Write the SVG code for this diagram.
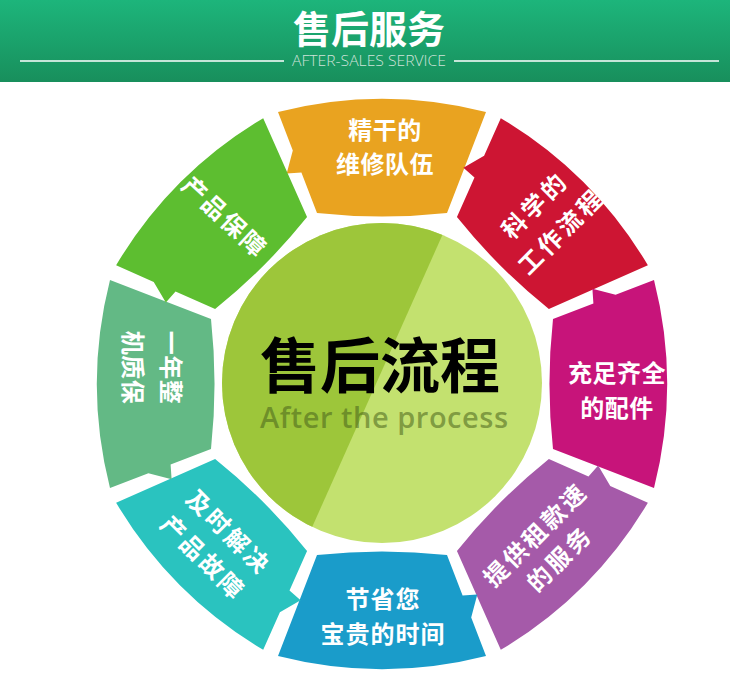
<svg xmlns="http://www.w3.org/2000/svg" xmlns:xlink="http://www.w3.org/1999/xlink" width="730" height="691" viewBox="0 0 730 691">
<defs>
<linearGradient id="hdr" x1="0" y1="0" x2="0" y2="1">
<stop offset="0" stop-color="#1db57b"/>
<stop offset="1" stop-color="#188f5c"/>
</linearGradient>
<clipPath id="cc"><circle cx="382" cy="383" r="160"/></clipPath>
<path id="seg" d="M-104,-272 A422,422 0 0 1 104,-272 L65,-171 A600,600 0 0 1 -65,-171 L-80.6,-211.4 L-95.3,-210.4 L-89.2,-233.6 Z"/>
</defs>
<style>
.lbl{font-family:"Noto Sans CJK SC","Noto Sans",sans-serif;font-weight:700;font-size:24px;fill:#fff;text-anchor:middle}
</style>
<rect width="730" height="691" fill="#fff"/>
<g id="header">
<rect x="0" y="0" width="730" height="82" fill="url(#hdr)"/>
<text x="369" y="43" font-family="'Noto Sans CJK SC','Noto Sans',sans-serif" font-weight="700" font-size="38" fill="#fff" text-anchor="middle">售后服务</text>
<line x1="20" y1="61" x2="284" y2="61" stroke="#fff" stroke-width="1.5"/>
<line x1="454" y1="61" x2="719" y2="61" stroke="#fff" stroke-width="1.5"/>
<text x="369" y="66" font-family="'Open Sans','Liberation Sans',sans-serif" font-weight="300" font-size="15" fill="#cfe3da" text-anchor="middle" textLength="154" lengthAdjust="spacingAndGlyphs">AFTER-SALES SERVICE</text>
</g>
<g id="connectors"/>
<g id="ring" transform="translate(382,384)">
<use id="seg-orange" xlink:href="#seg" href="#seg" fill="#e9a320"/>
<use id="seg-red" xlink:href="#seg" href="#seg" fill="#cd1533" transform="rotate(45)"/>
<use id="seg-magenta" xlink:href="#seg" href="#seg" fill="#c7147a" transform="rotate(90)"/>
<use id="seg-purple" xlink:href="#seg" href="#seg" fill="#a55aa9" transform="rotate(135)"/>
<use id="seg-blue" xlink:href="#seg" href="#seg" fill="#1a9cca" transform="rotate(180)"/>
<use id="seg-teal" xlink:href="#seg" href="#seg" fill="#2ac3bf" transform="rotate(225)"/>
<use id="seg-graygreen" xlink:href="#seg" href="#seg" fill="#63b985" transform="rotate(270)"/>
<use id="seg-green" xlink:href="#seg" href="#seg" fill="#5dbe30" transform="rotate(315)"/>
</g>
<g id="node-orange" transform="translate(385,147)">
<text class="lbl" y="-8.2" letter-spacing="0.5">精干的</text>
<text class="lbl" y="26.3" letter-spacing="0.5">维修队伍</text>
</g>
<g id="node-red" transform="translate(548,218) rotate(-45)">
<text class="lbl" y="-9.5" letter-spacing="3.5">科学的</text>
<text class="lbl" y="27.5" letter-spacing="3.5">工作流程</text>
</g>
<g id="node-magenta" transform="translate(617,390.5)">
<text class="lbl" y="-8.5" letter-spacing="0.5">充足齐全</text>
<text class="lbl" y="26.5" letter-spacing="0.5">的配件</text>
</g>
<g id="node-purple" transform="translate(547.5,546.5) rotate(-45)">
<text class="lbl" y="-8" letter-spacing="3">提供租款速</text>
<text class="lbl" y="26" letter-spacing="3">的服务</text>
</g>
<g id="node-blue" transform="translate(383,616.5)">
<text class="lbl" y="-8.5" letter-spacing="1">节省您</text>
<text class="lbl" y="26.5" letter-spacing="1">宝贵的时间</text>
</g>
<g id="node-teal" transform="translate(216,545) rotate(45)">
<text class="lbl" y="-9" letter-spacing="3">及时解决</text>
<text class="lbl" y="27" letter-spacing="3">产品故障</text>
</g>
<g id="node-graygreen" transform="translate(152,367.5) rotate(90)">
<text class="lbl" y="-9.7" letter-spacing="0.5">一年整</text>
<text class="lbl" y="27.7" letter-spacing="0.5">机质保</text>
</g>
<g id="node-green" transform="translate(225,217) rotate(43)">
<text class="lbl" y="9" letter-spacing="2.5">产品保障</text>
</g>
<g id="node-center">
<circle cx="382" cy="383" r="160" fill="#c3e16f"/>
<polygon clip-path="url(#cc)" points="200,200 458,200 293,570 200,570" fill="#9dc63a"/>
<text x="380" y="388" font-family="'Noto Sans CJK SC','Noto Sans',sans-serif" font-weight="700" font-size="60" fill="#000" text-anchor="middle">售后流程</text>
<text x="384" y="428" font-family="'Open Sans','Liberation Sans',sans-serif" font-weight="600" font-size="29" fill="#46601a" fill-opacity="0.55" text-anchor="middle" textLength="248">After the process</text>
</g>
</svg>
